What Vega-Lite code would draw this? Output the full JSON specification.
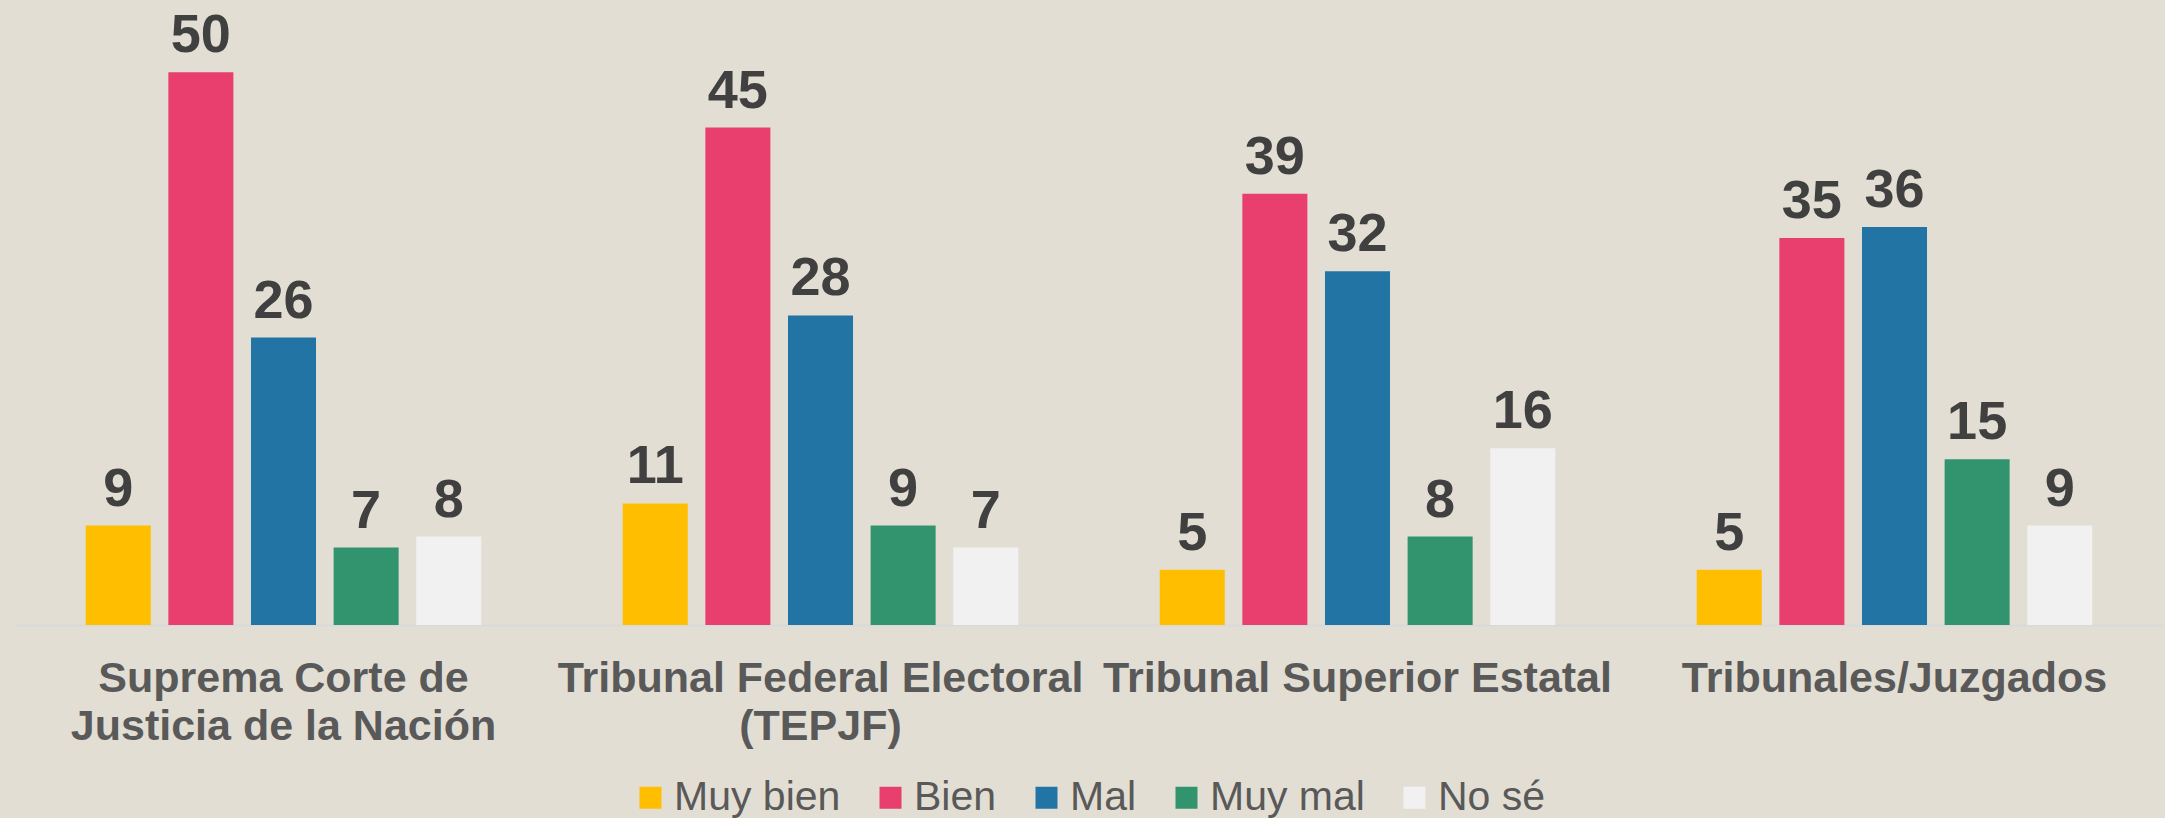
{
  "$schema": "https://vega.github.io/schema/vega-lite/v6.json",
  "autosize": {"type": "none"},
  "width": 2148,
  "height": 608,
  "padding": {"left": 15, "top": 17, "right": 2, "bottom": 193},
  "background": "#E3DED3",
  "config": {
    "view": {"stroke": null},
    "font": "Liberation Sans"
  },
  "data": {
    "values": [
      {"institucion": "Suprema Corte de Justicia de la Nación", "respuesta": "Muy bien", "valor": 9},
      {"institucion": "Suprema Corte de Justicia de la Nación", "respuesta": "Bien", "valor": 50},
      {"institucion": "Suprema Corte de Justicia de la Nación", "respuesta": "Mal", "valor": 26},
      {"institucion": "Suprema Corte de Justicia de la Nación", "respuesta": "Muy mal", "valor": 7},
      {"institucion": "Suprema Corte de Justicia de la Nación", "respuesta": "No sé", "valor": 8},
      {"institucion": "Tribunal Federal Electoral (TEPJF)", "respuesta": "Muy bien", "valor": 11},
      {"institucion": "Tribunal Federal Electoral (TEPJF)", "respuesta": "Bien", "valor": 45},
      {"institucion": "Tribunal Federal Electoral (TEPJF)", "respuesta": "Mal", "valor": 28},
      {"institucion": "Tribunal Federal Electoral (TEPJF)", "respuesta": "Muy mal", "valor": 9},
      {"institucion": "Tribunal Federal Electoral (TEPJF)", "respuesta": "No sé", "valor": 7},
      {"institucion": "Tribunal Superior Estatal", "respuesta": "Muy bien", "valor": 5},
      {"institucion": "Tribunal Superior Estatal", "respuesta": "Bien", "valor": 39},
      {"institucion": "Tribunal Superior Estatal", "respuesta": "Mal", "valor": 32},
      {"institucion": "Tribunal Superior Estatal", "respuesta": "Muy mal", "valor": 8},
      {"institucion": "Tribunal Superior Estatal", "respuesta": "No sé", "valor": 16},
      {"institucion": "Tribunales/Juzgados", "respuesta": "Muy bien", "valor": 5},
      {"institucion": "Tribunales/Juzgados", "respuesta": "Bien", "valor": 35},
      {"institucion": "Tribunales/Juzgados", "respuesta": "Mal", "valor": 36},
      {"institucion": "Tribunales/Juzgados", "respuesta": "Muy mal", "valor": 15},
      {"institucion": "Tribunales/Juzgados", "respuesta": "No sé", "valor": 9}
    ]
  },
  "encoding": {
    "x": {
      "field": "institucion",
      "type": "nominal",
      "sort": null,
      "scale": {"paddingInner": 0, "paddingOuter": 0},
      "axis": {
        "title": null,
        "labelAngle": 0,
        "ticks": false,
        "tickSize": 0,
        "domainColor": "#D9D9D9",
        "domainWidth": 2,
        "labelFontSize": 43,
        "labelFontWeight": "bold",
        "labelColor": "#595959",
        "labelPadding": 32,
        "labelLineHeight": 48,
        "labelLimit": 700,
        "labelExpr": "datum.label == 'Suprema Corte de Justicia de la Nación' ? ['Suprema Corte de', 'Justicia de la Nación'] : datum.label == 'Tribunal Federal Electoral (TEPJF)' ? ['Tribunal Federal Electoral', '(TEPJF)'] : datum.label"
      }
    },
    "xOffset": {
      "field": "respuesta",
      "type": "nominal",
      "sort": ["Muy bien", "Bien", "Mal", "Muy mal", "No sé"],
      "scale": {"paddingInner": 0.213, "paddingOuter": 0.856}
    },
    "y": {
      "field": "valor",
      "type": "quantitative",
      "scale": {"domain": [0, 55], "nice": false},
      "axis": null
    }
  },
  "layer": [
    {
      "mark": {"type": "bar"},
      "encoding": {
        "color": {
          "field": "respuesta",
          "type": "nominal",
          "sort": ["Muy bien", "Bien", "Mal", "Muy mal", "No sé"],
          "scale": {
            "domain": ["Muy bien", "Bien", "Mal", "Muy mal", "No sé"],
            "range": ["#FFBF00", "#E83F6F", "#2274A5", "#32936F", "#F1F1F1"]
          },
          "legend": {
            "title": null,
            "orient": "none",
            "direction": "horizontal",
            "legendX": 615,
            "legendY": 760,
            "padding": 0,
            "symbolType": "square",
            "symbolSize": 484,
            "symbolStrokeWidth": 0,
            "labelFontSize": 41,
            "labelColor": "#595959",
            "labelOffset": 3,
            "columnPadding": 29,
            "labelLimit": 400
          }
        }
      }
    },
    {
      "mark": {
        "type": "text",
        "baseline": "alphabetic",
        "dy": -20,
        "fontSize": 54,
        "fontWeight": "bold",
        "color": "#404040"
      },
      "encoding": {
        "text": {"field": "valor", "type": "quantitative"}
      }
    }
  ]
}
